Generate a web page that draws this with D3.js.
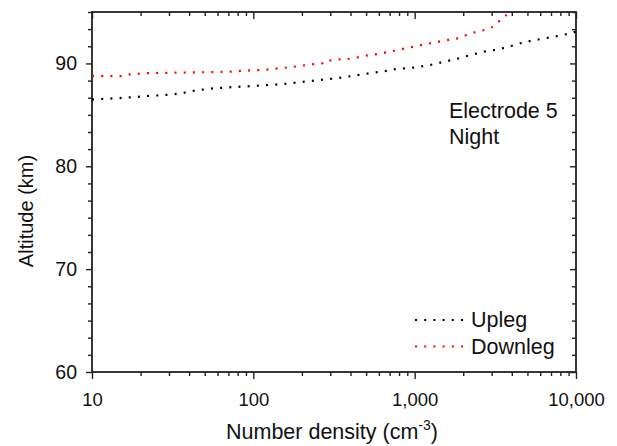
<!DOCTYPE html>
<html>
<head>
<meta charset="utf-8">
<script src="https://cdn.jsdelivr.net/npm/d3@7"></script>
<style>
  html, body { margin: 0; padding: 0; background: #fff; }
  svg { display: block; font-family: "Liberation Sans", Arial, sans-serif; }
</style>
</head>
<body>
<svg id="chart" width="617" height="446"></svg>
<script>
// Upleg profile: number density (cm^-3) vs altitude (km)
const uplegDensity = [10, 14.4, 16.4, 18.7, 21.3, 27.4, 31.2, 35.6, 40.1, 45.2, 56.5, 73.5, 95.4, 122, 157, 201, 252, 322, 413, 529, 677, 759, 991, 1233, 1494, 1806, 2205, 2693, 3303, 4000, 4786, 5848, 7450, 9418, 10000];
const uplegAltitude = [86.5, 86.62, 86.69, 86.72, 86.82, 86.92, 86.98, 87.08, 87.27, 87.4, 87.57, 87.69, 87.79, 87.89, 88.02, 88.21, 88.38, 88.54, 88.79, 89.05, 89.28, 89.45, 89.6, 89.83, 90.13, 90.42, 90.81, 91.14, 91.37, 91.72, 92.07, 92.33, 92.62, 92.95, 93.1];

// Downleg profile
const downlegDensity = [10, 15.3, 17.4, 22.6, 39.5, 68.4, 90.1, 117, 134, 171, 216, 241, 267, 282, 303, 334, 374, 423, 477, 604, 759, 960, 1199, 1507, 1893, 2105, 2335, 2904, 3105, 3303, 3516, 3847, 4018];
const downlegAltitude = [88.76, 88.76, 88.96, 89.06, 89.12, 89.18, 89.3, 89.37, 89.48, 89.64, 89.85, 89.95, 90.0, 90.3, 90.3, 90.39, 90.4, 90.52, 90.71, 90.94, 91.26, 91.59, 91.91, 92.2, 92.46, 92.79, 93.01, 93.37, 93.66, 94.05, 94.37, 94.95, 95.3];

const xTickValues = [10, 100, 1000, 10000];
const xTickLabels = ["10", "100", "1,000", "10,000"];
const yTickValues = [60, 70, 80, 90];
const seriesNames = ["Upleg", "Downleg"];
const seriesColors = ["#000000", "#ff0000"];
const annotation = ["Electrode 5", "Night"];

const svg = d3.select("#chart");
const plotLeft = 92, plotRight = 576, plotTop = 12, plotBottom = 372;

const x = d3.scaleLog().domain([10, 10000]).range([plotLeft, plotRight]);
const y = d3.scaleLinear().domain([60, 95]).range([plotBottom, plotTop]);

// minor ticks
const xMinor = [];
for (let p = 1; p < 4; p++) for (let m = 2; m <= 9; m++) xMinor.push(m * Math.pow(10, p));
const yMinor = [];
for (let k = 0; k <= 21; k++) {
  if (k % 6 !== 0) yMinor.push(60 + k * 10 / 6);
}

const axisColor = "#222";
const textColor = "#111";
function styleAxis(g) {
  g.select(".domain").remove();
  g.selectAll(".tick line").attr("stroke", axisColor).attr("stroke-width", 1.4);
}

// clip for data lines
svg.append("defs").append("clipPath").attr("id", "plotClip")
  .append("rect").attr("x", plotLeft).attr("y", plotTop)
  .attr("width", plotRight - plotLeft).attr("height", plotBottom - plotTop);

// bottom axis (outward ticks)
svg.append("g").attr("transform", `translate(0,${plotBottom})`)
  .call(d3.axisBottom(x).tickValues(xMinor).tickSize(4).tickFormat(""))
  .call(styleAxis);
const xb = svg.append("g").attr("transform", `translate(0,${plotBottom})`)
  .call(d3.axisBottom(x).tickValues(xTickValues).tickSize(7).tickPadding(14)
    .tickFormat((d, i) => xTickLabels[i]))
  .call(styleAxis);
xb.selectAll(".tick text").attr("font-size", 18.5).attr("fill", textColor)
  .attr("font-family", "Liberation Sans, Arial, sans-serif");

// top axis (inward ticks)
svg.append("g").attr("transform", `translate(0,${plotTop})`)
  .call(d3.axisBottom(x).tickValues(xMinor).tickSize(4).tickFormat(""))
  .call(styleAxis);
svg.append("g").attr("transform", `translate(0,${plotTop})`)
  .call(d3.axisBottom(x).tickValues(xTickValues).tickSize(7).tickFormat(""))
  .call(styleAxis);

// left axis (outward ticks)
svg.append("g").attr("transform", `translate(${plotLeft},0)`)
  .call(d3.axisLeft(y).tickValues(yMinor).tickSize(4).tickFormat(""))
  .call(styleAxis);
const yl = svg.append("g").attr("transform", `translate(${plotLeft},0)`)
  .call(d3.axisLeft(y).tickValues(yTickValues).tickSize(6).tickPadding(9).tickFormat(d3.format("d")))
  .call(styleAxis);
yl.selectAll(".tick text").attr("font-size", 19.5).attr("fill", textColor)
  .attr("font-family", "Liberation Sans, Arial, sans-serif");

// right axis (inward ticks)
svg.append("g").attr("transform", `translate(${plotRight},0)`)
  .call(d3.axisRight(y).tickValues(yMinor).tickSize(-4).tickFormat(""))
  .call(styleAxis);
svg.append("g").attr("transform", `translate(${plotRight},0)`)
  .call(d3.axisRight(y).tickValues(yTickValues).tickSize(-6).tickFormat(""))
  .call(styleAxis);

// frame
svg.append("rect").attr("x", plotLeft).attr("y", plotTop)
  .attr("width", plotRight - plotLeft).attr("height", plotBottom - plotTop)
  .attr("fill", "none").attr("stroke", axisColor).attr("stroke-width", 1.8);

// data lines
const line = d3.line().x(d => x(d[0])).y(d => y(d[1]));
const series = [
  d3.zip(uplegDensity, uplegAltitude),
  d3.zip(downlegDensity, downlegAltitude)
];
const plot = svg.append("g").attr("clip-path", "url(#plotClip)");
series.forEach((pts, i) => {
  plot.append("path").datum(pts)
    .attr("d", line)
    .attr("fill", "none")
    .attr("stroke", seriesColors[i])
    .attr("stroke-width", 2.2)
    .attr("stroke-dasharray", "2 7.2");
});

// legend
const legend = svg.append("g");
seriesNames.forEach((name, i) => {
  const ly = 320 + i * 26.5;
  legend.append("line").attr("x1", 415).attr("x2", 467).attr("y1", ly).attr("y2", ly)
    .attr("stroke", seriesColors[i]).attr("stroke-width", 2.2).attr("stroke-dasharray", "2 7.2");
  legend.append("text").attr("x", 471).attr("y", ly + 7).attr("font-size", 21.5).attr("fill", textColor)
    .text(name);
});

// annotation
annotation.forEach((t, i) => {
  svg.append("text").attr("x", 449).attr("y", 118 + i * 26).attr("font-size", 21.5).attr("fill", textColor).text(t);
});

// axis titles
const xt = svg.append("text").attr("x", 226).attr("y", 439).attr("font-size", 21.5).attr("fill", textColor);
xt.append("tspan").text("Number density (cm");
xt.append("tspan").attr("font-size", 14).attr("dy", -9).text("-3");
xt.append("tspan").attr("dy", 9).text(")");

svg.append("text").attr("transform", "translate(33,211) rotate(-90)")
  .attr("text-anchor", "middle").attr("font-size", 20).attr("fill", textColor)
  .text("Altitude (km)");
</script>
</body>
</html>
